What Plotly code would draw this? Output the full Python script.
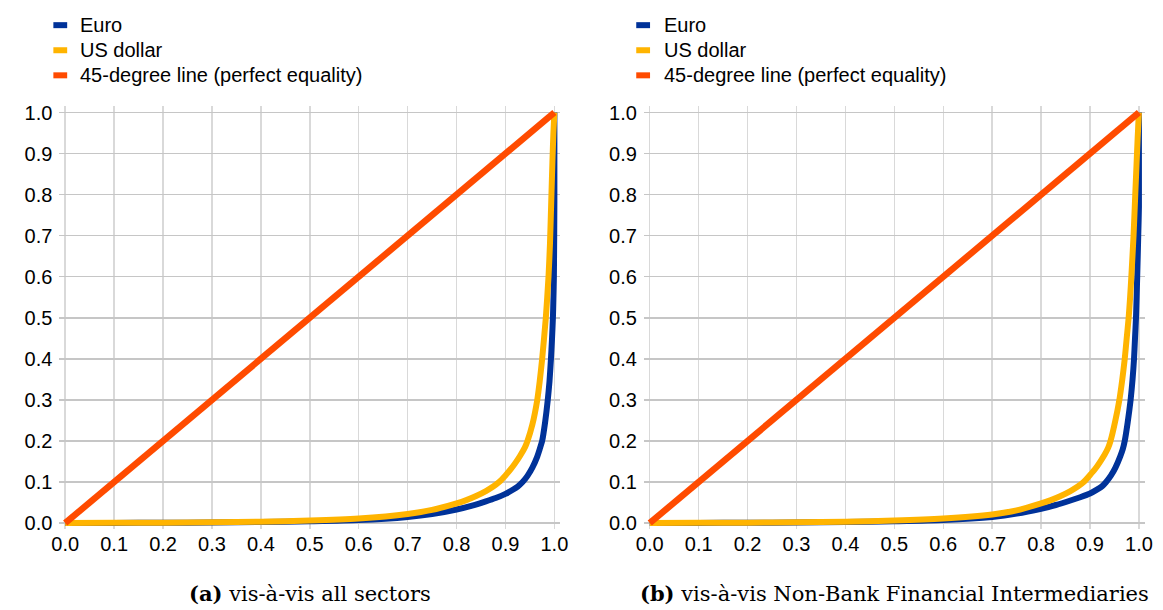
import plotly.graph_objects as go

# ---------------- data ----------------
ticks = [0.0, 0.1, 0.2, 0.3, 0.4, 0.5, 0.6, 0.7, 0.8, 0.9, 1.0]
tick_labels = [f"{t:.1f}" for t in ticks]

series_names = ["Euro", "US dollar", "45-degree line (perfect equality)"]
series_colors = ["#003299", "#FFB400", "#FF4B00"]

# panel (a): vis-a-vis all sectors (cumulative share of holders vs cumulative share of amounts)
a_eur_x = [0, 0.1, 0.2, 0.3, 0.4, 0.5, 0.6, 0.7, 0.75, 0.8, 0.83, 0.86, 0.88, 0.9, 0.915,
           0.925, 0.935, 0.945, 0.955, 0.965, 0.97, 0.975, 0.981, 0.9865, 0.99, 0.993,
           0.995, 0.997, 0.998, 0.999, 1.0, 1.0]
a_eur_y = [0, 0.0003, 0.0007, 0.0014, 0.0025, 0.0045, 0.0075, 0.015, 0.022, 0.033, 0.042,
           0.053, 0.061, 0.071, 0.081, 0.089, 0.1, 0.115, 0.135, 0.162, 0.18, 0.2, 0.245,
           0.3, 0.345, 0.4, 0.445, 0.5, 0.545, 0.6, 0.78, 1.0]
a_usd_x = [0, 0.1, 0.2, 0.3, 0.4, 0.5, 0.6, 0.7, 0.75, 0.8, 0.82, 0.84, 0.86, 0.875, 0.887,
           0.9, 0.91, 0.92, 0.93, 0.94, 0.945, 0.955, 0.965, 0.97, 0.975, 0.9825, 0.988,
           0.991, 0.994, 0.996, 0.998, 1.0]
a_usd_y = [0, 0.0005, 0.001, 0.002, 0.0035, 0.006, 0.011, 0.022, 0.032, 0.048, 0.056, 0.066,
           0.078, 0.089, 0.1, 0.116, 0.13, 0.146, 0.164, 0.185, 0.2, 0.24, 0.3, 0.345, 0.4,
           0.5, 0.6, 0.68, 0.8, 0.88, 0.95, 1.0]

# panel (b): vis-a-vis Non-Bank Financial Intermediaries
b_eur_x = [0, 0.1, 0.2, 0.3, 0.4, 0.5, 0.6, 0.7, 0.75, 0.8, 0.83, 0.86, 0.88, 0.9, 0.915,
           0.925, 0.933, 0.943, 0.952, 0.962, 0.967, 0.971, 0.977, 0.983, 0.987, 0.99,
           0.992, 0.994, 0.9965, 0.9986, 1.0, 1.0]
b_eur_y = [0, 0.0003, 0.0007, 0.0014, 0.0025, 0.0045, 0.0075, 0.015, 0.023, 0.035, 0.044,
           0.055, 0.063, 0.072, 0.082, 0.09, 0.1, 0.116, 0.135, 0.163, 0.18, 0.2, 0.245,
           0.3, 0.35, 0.4, 0.45, 0.5, 0.6, 0.7, 0.77, 1.0]
b_usd_x = [0, 0.1, 0.2, 0.3, 0.4, 0.5, 0.6, 0.7, 0.75, 0.8, 0.82, 0.84, 0.86, 0.875, 0.887,
           0.9, 0.91, 0.92, 0.93, 0.937, 0.942, 0.951, 0.96, 0.966, 0.971, 0.975, 0.979,
           0.982, 0.9845, 0.989, 0.9925, 0.995, 0.9975, 1.0]
b_usd_y = [0, 0.0005, 0.001, 0.002, 0.0035, 0.006, 0.011, 0.021, 0.031, 0.048, 0.056, 0.066,
           0.078, 0.089, 0.1, 0.117, 0.131, 0.148, 0.167, 0.183, 0.2, 0.245, 0.3, 0.35, 0.4,
           0.45, 0.5, 0.55, 0.6, 0.7, 0.8, 0.87, 0.94, 1.0]

eq_x = [0.0, 1.0]
eq_y = [0.0, 1.0]

captions = ["<b>(a)</b> vis-à-vis all sectors",
            "<b>(b)</b> vis-à-vis Non-Bank Financial Intermediaries"]

# ---------------- figure ----------------
W, H = 1163, 610
fig = go.Figure()

panels = [
    (a_eur_x, a_eur_y, a_usd_x, a_usd_y, "x", "y"),
    (b_eur_x, b_eur_y, b_usd_x, b_usd_y, "x2", "y2"),
]
for ex, ey, ux, uy, xa, ya in panels:
    fig.add_trace(go.Scatter(x=ex, y=ey, mode="lines", name=series_names[0],
                             line=dict(color=series_colors[0], width=6, shape="spline",
                                       smoothing=0.6),
                             xaxis=xa, yaxis=ya, showlegend=False))
    fig.add_trace(go.Scatter(x=ux, y=uy, mode="lines", name=series_names[1],
                             line=dict(color=series_colors[1], width=6, shape="spline",
                                       smoothing=0.6),
                             xaxis=xa, yaxis=ya, showlegend=False))
    fig.add_trace(go.Scatter(x=eq_x, y=eq_y, mode="lines", name=series_names[2],
                             line=dict(color=series_colors[2], width=6.5),
                             xaxis=xa, yaxis=ya, showlegend=False))

pad_x = 0.012
pad_y = 0.015
font_tick = dict(family="Liberation Sans, Arial", size=20, color="#000000")

# pixel positions of value 0 and 1
ax_px = [(58.0, 554.0), (650.7, 1146.7)]
y0_px, y1_px = 526.7, 109.3
ppx = 496.0
ppy = y0_px - y1_px

for i, (x0p, x1p) in enumerate(ax_px):
    suffix = "" if i == 0 else str(i + 1)
    xdom = [(x0p - pad_x * ppx) / W, (x1p + pad_x * ppx) / W]
    ydom = [1 - (y0_px + pad_y * ppy) / H, 1 - (y1_px - pad_y * ppy) / H]
    fig.layout["xaxis" + suffix] = dict(
        domain=xdom, range=[-pad_x, 1 + pad_x], anchor="y" + suffix,
        tickmode="array", tickvals=ticks, ticktext=tick_labels,
        showgrid=True, gridcolor="#d9d9d9", gridwidth=1.5, zeroline=False,
        showline=False, ticks="", tickfont=font_tick, ticklabelstandoff=1,
        fixedrange=True)
    fig.layout["yaxis" + suffix] = dict(
        domain=ydom, range=[-pad_y, 1 + pad_y], anchor="x" + suffix,
        tickmode="array", tickvals=ticks, ticktext=tick_labels,
        showgrid=True, gridcolor="#c6c6c6", gridwidth=1.5, zeroline=False,
        showline=False, ticks="", tickfont=font_tick, ticklabelstandoff=6,
        fixedrange=True)

# manual legends (one per panel)
legend_x = [(46, 71), (637, 663)]
legend_y = [20.5, 46, 71.5]
shapes = []
annotations = []
for sx, tx in legend_x:
    for name, col, ly in zip(series_names, series_colors, legend_y):
        shapes.append(dict(type="line", xref="paper", yref="paper",
                           x0=sx / W, x1=(sx + 14) / W, y0=1 - ly / H, y1=1 - ly / H,
                           line=dict(color=col, width=6)))
        annotations.append(dict(xref="paper", yref="paper", x=tx / W, y=1 - ly / H,
                                xanchor="left", yanchor="middle", showarrow=False,
                                text=name, font=dict(family="Liberation Sans, Arial",
                                                     size=20, color="#000000")))

cap_x = [(58 + 554) / 2, (650.7 + 1146.7) / 2]
for cx, cap in zip(cap_x, captions):
    annotations.append(dict(xref="paper", yref="paper", x=cx / W, y=1 - 598 / H,
                            xanchor="center", yanchor="middle", showarrow=False,
                            text=cap, font=dict(family="DejaVu Serif, serif",
                                                size=21, color="#000000")))

fig.update_layout(width=W, height=H, autosize=False,
                  margin=dict(l=0, r=0, t=0, b=0),
                  paper_bgcolor="white", plot_bgcolor="white",
                  shapes=shapes, annotations=annotations, showlegend=False)

fig.write_html("out.html",
               config={"displayModeBar": False, "staticPlot": True},
               post_script="document.body.style.margin='0px';"
                           "document.body.style.padding='0px';"
                           "document.body.style.overflow='hidden';")
